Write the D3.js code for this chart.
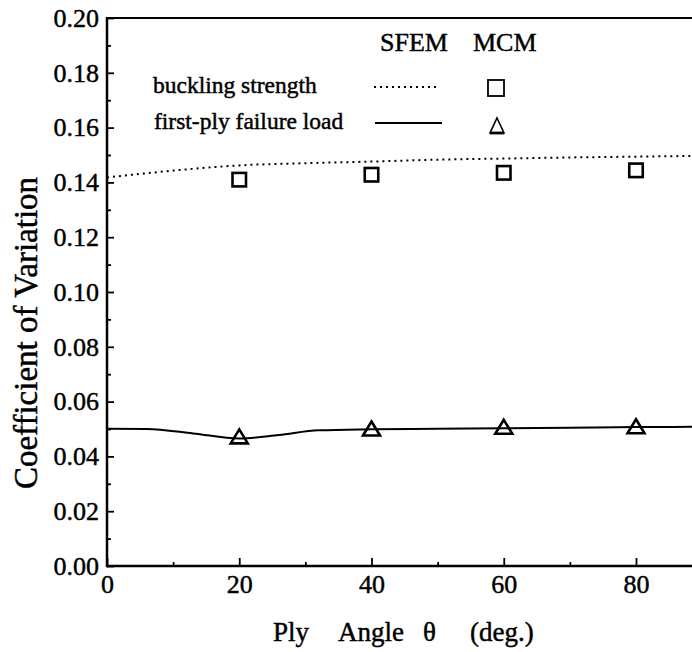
<!DOCTYPE html>
<html>
<head>
<meta charset="utf-8">
<script src="https://cdn.jsdelivr.net/npm/d3@7"></script>
<style>
  html, body { margin: 0; padding: 0; background: #fff; }
  svg { display: block; }
  svg text { font-family: "Liberation Serif", "DejaVu Serif", serif !important; fill: #000; stroke: #000; stroke-width: 0.45px; }
</style>
</head>
<body>
<svg id="chart" width="692" height="652"></svg>
<script>
// ---- data ----
const markerAngles = [20, 40, 60, 80];
const bucklingMCM = [0.1410, 0.1428, 0.1435, 0.1444];
const firstPlyMCM = [0.0473, 0.0502, 0.0508, 0.0510];

const bucklingSFEMAngles = [0, 10, 20, 30, 40, 50, 60, 70, 80, 90];
const bucklingSFEM = [0.1418, 0.1443, 0.1462, 0.1470, 0.1476, 0.1483, 0.1487, 0.1491, 0.1494, 0.1497];

const firstPlySFEMAngles = [0, 6, 13, 20, 26, 32, 40, 50, 60, 70, 80, 90];
const firstPlySFEM = [0.0501, 0.0500, 0.0484, 0.0465, 0.0478, 0.0495, 0.0499, 0.0501, 0.0503, 0.0505, 0.0507, 0.0508];

const xMajorTicks = [0, 20, 40, 60, 80];
const xMinorTicks = [10, 30, 50, 70];
const yMajorTicks = [0, 0.02, 0.04, 0.06, 0.08, 0.10, 0.12, 0.14, 0.16, 0.18, 0.20];
const yMinorTicks = [0.01, 0.03, 0.05, 0.07, 0.09, 0.11, 0.13, 0.15, 0.17, 0.19];

const legendHeaders = ["SFEM", "MCM"];
const legendLabels = ["buckling strength", "first-ply failure load"];

// ---- layout ----
const svg = d3.select("#chart");
const padL = 107, padB = 566, padT = 18;
const x = d3.scaleLinear().domain([0, 90]).range([padL, padL + 90 * 6.6125]);
const y = d3.scaleLinear().domain([0, 0.2]).range([padB, padT]);

const plot = svg.append("g");

// axes - minor ticks
svg.append("g").attr("transform", `translate(${padL},0)`)
  .call(d3.axisLeft(y).tickValues(yMinorTicks).tickSize(-4).tickSizeOuter(0).tickFormat(""))
  .call(g => g.select(".domain").remove())
  .call(g => g.selectAll("line").attr("stroke-width", 1.8));
svg.append("g").attr("transform", `translate(0,${padB})`)
  .call(d3.axisBottom(x).tickValues(xMinorTicks).tickSize(-4).tickSizeOuter(0).tickFormat(""))
  .call(g => g.select(".domain").remove())
  .call(g => g.selectAll("line").attr("stroke-width", 1.8));

// axes - major ticks
svg.append("g").attr("transform", `translate(${padL},0)`)
  .call(d3.axisLeft(y).tickValues(yMajorTicks).tickSize(-7).tickSizeOuter(0).tickPadding(8).tickFormat(d3.format(".2f")))
  .call(g => g.select(".domain").remove())
  .call(g => g.selectAll("line").attr("stroke-width", 1.8))
  .call(g => g.attr("font-family", null).attr("font-size", 26));
svg.append("g").attr("transform", `translate(0,${padB})`)
  .call(d3.axisBottom(x).tickValues(xMajorTicks).tickSize(-8).tickSizeOuter(0).tickPadding(9).tickFormat(d3.format("d")))
  .call(g => g.select(".domain").remove())
  .call(g => g.selectAll("line").attr("stroke-width", 1.8))
  .call(g => g.attr("font-family", null).attr("font-size", 26));

// frame lines
svg.append("line").attr("x1", padL).attr("x2", 692).attr("y1", padB).attr("y2", padB)
  .attr("stroke", "#000").attr("stroke-width", 2.5);
svg.append("line").attr("x1", padL).attr("x2", 692).attr("y1", padT).attr("y2", padT)
  .attr("stroke", "#000").attr("stroke-width", 2.2);
svg.append("line").attr("x1", padL).attr("x2", padL).attr("y1", padT - 1).attr("y2", padB + 1.2)
  .attr("stroke", "#000").attr("stroke-width", 2.5);

// curves
const line = d3.line().curve(d3.curveMonotoneX).x(d => x(d[0])).y(d => y(d[1]));
plot.append("path")
  .attr("d", line(d3.zip(bucklingSFEMAngles, bucklingSFEM)))
  .attr("fill", "none").attr("stroke", "#000").attr("stroke-width", 2)
  .attr("stroke-dasharray", "2,4");
plot.append("path")
  .attr("d", line(d3.zip(firstPlySFEMAngles, firstPlySFEM)))
  .attr("fill", "none").attr("stroke", "#000").attr("stroke-width", 2);

// markers
const sq = 13.5;
plot.selectAll("rect.mcm").data(d3.zip(markerAngles, bucklingMCM)).join("rect")
  .attr("class", "mcm")
  .attr("x", d => x(d[0]) - sq / 2).attr("y", d => y(d[1]) - sq / 2)
  .attr("width", sq).attr("height", sq)
  .attr("fill", "none").attr("stroke", "#000").attr("stroke-width", 2.6);

const triW = 17, triH = 14;
plot.selectAll("path.tri").data(d3.zip(markerAngles, firstPlyMCM)).join("path")
  .attr("class", "tri")
  .attr("d", d => {
    const cx = x(d[0]), cy = y(d[1]);
    return `M${cx},${cy - triH / 2}L${cx + triW / 2},${cy + triH / 2}L${cx - triW / 2},${cy + triH / 2}Z`;
  })
  .attr("fill", "none").attr("stroke", "#000").attr("stroke-width", 2.6).attr("stroke-linejoin", "miter");

// legend
const lg = svg.append("g");
lg.append("text").attr("x", 380).attr("y", 51).attr("font-size", 26).text(legendHeaders[0]);
lg.append("text").attr("x", 473).attr("y", 51).attr("font-size", 26).text(legendHeaders[1]);
lg.append("text").attr("x", 153).attr("y", 93).attr("font-size", 23.5).text(legendLabels[0]);
lg.append("text").attr("x", 154).attr("y", 129).attr("font-size", 23.5).text(legendLabels[1]);
lg.append("line").attr("x1", 374).attr("x2", 438).attr("y1", 87).attr("y2", 87)
  .attr("stroke", "#000").attr("stroke-width", 1.8).attr("stroke-dasharray", "2,4");
lg.append("line").attr("x1", 375).attr("x2", 442).attr("y1", 123).attr("y2", 123)
  .attr("stroke", "#000").attr("stroke-width", 2);
lg.append("rect").attr("x", 488).attr("y", 80).attr("width", 16).attr("height", 16)
  .attr("fill", "none").attr("stroke", "#000").attr("stroke-width", 1.8);
lg.append("path")
  .attr("d", "M497,118L504,133L490,133Z")
  .attr("fill", "none").attr("stroke", "#000").attr("stroke-width", 1.6);
lg.append("line").attr("x1", 490).attr("x2", 504).attr("y1", 133).attr("y2", 133)
  .attr("stroke", "#000").attr("stroke-width", 2.8);

// axis titles
svg.append("text").attr("transform", "translate(37,333) rotate(-90)")
  .attr("text-anchor", "middle").attr("font-size", 33).text("Coefficient of Variation");
const xt = svg.append("text").attr("y", 641).attr("font-size", 27);
xt.append("tspan").attr("x", 273).text("Ply");
xt.append("tspan").attr("x", 338).text("Angle");
xt.append("tspan").attr("x", 423).text("θ");
xt.append("tspan").attr("x", 470).text("(deg.)");
</script>
</body>
</html>
